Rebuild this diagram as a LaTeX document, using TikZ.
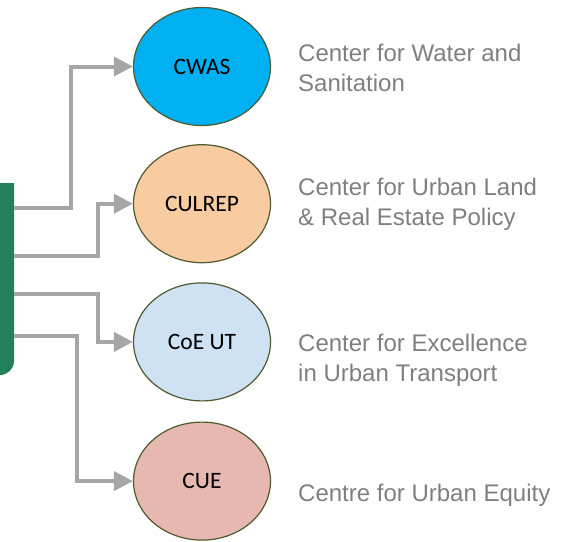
\documentclass[tikz,border=0pt]{standalone}
\usepackage{fontspec}
\newfontfamily\notefont{Liberation Sans}
\newfontfamily\centrefont{Carlito}
\usetikzlibrary{arrows.meta,positioning,shapes.geometric}

\definecolor{hubgreen}{HTML}{23805A}
\definecolor{linkgray}{HTML}{A6A6A6}
\definecolor{rimolive}{HTML}{4F5A30}
\definecolor{cwasblue}{HTML}{00B0F0}
\definecolor{culrepsand}{HTML}{F8CBA0}
\definecolor{coeutblue}{HTML}{CFE2F3}
\definecolor{cuerose}{HTML}{E6B8AF}
\definecolor{notegray}{HTML}{7F7F7F}

\tikzset{
  centre/.style = {ellipse, draw=rimolive, line width=1.2pt, minimum width=137pt,
    minimum height=118pt, inner sep=0pt, font=\centrefont\fontsize{23.5}{28}\selectfont},
  note/.style = {anchor=base west, align=left, inner sep=0pt, text=notegray,
    font=\notefont\fontsize{24}{30}\selectfont},
  link/.style = {draw=linkgray, line width=4pt, -{Triangle[length=19pt,width=19pt]}}
}

\begin{document}
\begin{tikzpicture}[x=1pt, y=-1pt]
  \useasboundingbox (0,0) rectangle (562,541);
  % green box cut off by the left edge
  \node[minimum width=44pt, minimum height=192pt, inner sep=0pt, outer sep=0pt] (hub) at (-8,279) {};
  \fill[hubgreen] (hub.north west) -- (hub.north east) -- ([yshift=14pt]hub.south east)
    arc[start angle=0, end angle=-90, radius=14pt] -- (hub.south west) -- cycle;

  \node[centre, fill=cwasblue] (cwas) at (202,66.5) {CWAS};
  \node[centre, fill=culrepsand, below=18pt of cwas] (culrep) {CULREP};
  \node[centre, fill=coeutblue, below=19pt of culrep] (coeut) {CoE UT};
  \node[centre, fill=cuerose, below=20pt of coeut] (cue) {CUE};

  % base of a two-line note is its last line
  \node[note] (cwasnote) at (298,91.7) {Center for Water and\\Sanitation};
  \node[note] (culrepnote) at (298,225) {Center for Urban Land\\\& Real Estate Policy};
  \node[note] (coeutnote) at (298,381.7) {Center for Excellence\\in Urban Transport};
  \node[note] (cuenote) at (298,501.7) {Centre for Urban Equity};

  \draw[link] ([yshift=-25pt]hub.north east) -| ([xshift=-62pt]cwas.west) -- (cwas.west);
  \draw[link] ([yshift=-73pt]hub.north east) -| ([xshift=-35pt]culrep.west) -- (culrep.west);
  \draw[link] ([yshift=-111pt]hub.north east) -| ([xshift=-35pt]coeut.west) -- (coeut.west);
  \draw[link] ([yshift=-153pt]hub.north east) -| ([xshift=-56pt]cue.west) -- (cue.west);
\end{tikzpicture}
\end{document}
